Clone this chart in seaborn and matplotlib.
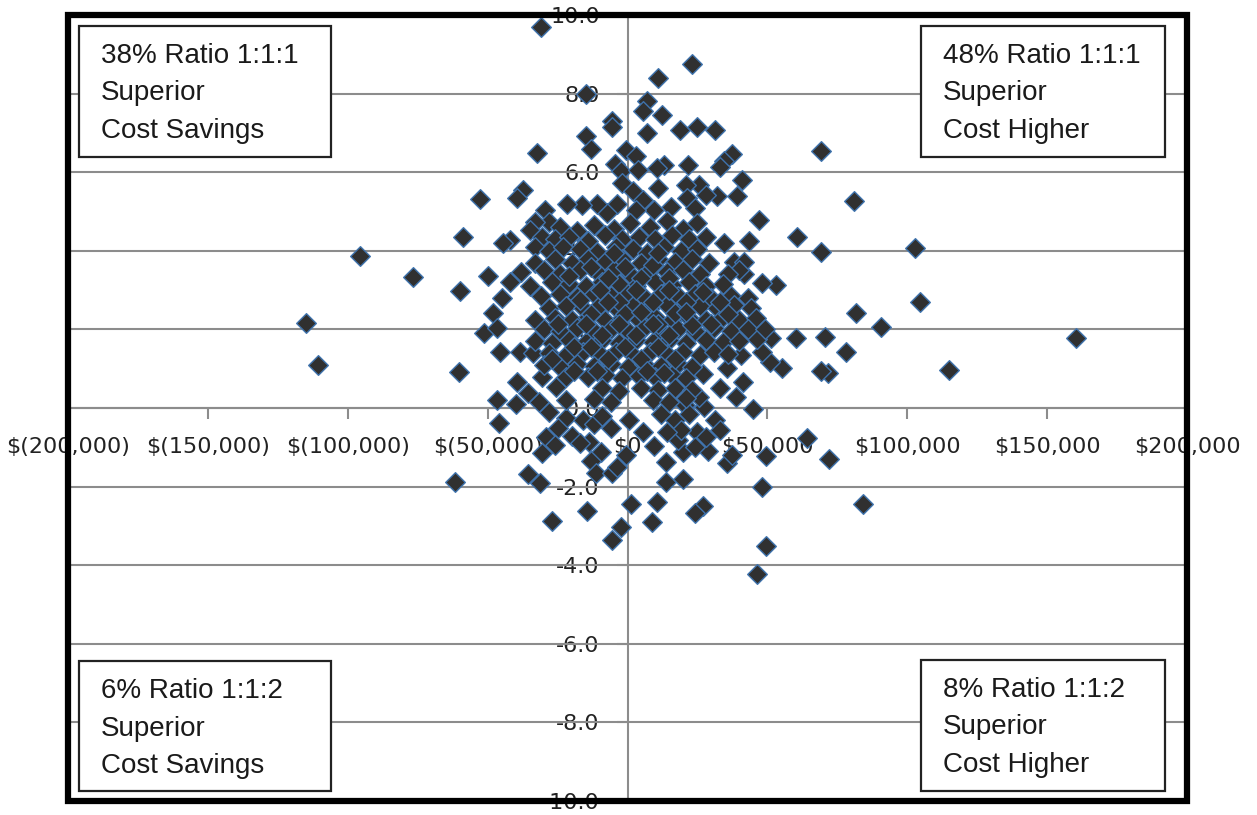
import matplotlib
matplotlib.use('Agg')
import matplotlib.pyplot as plt
from matplotlib.patches import Rectangle
import pandas as pd
import seaborn as sns

W, H = 1257, 815

# values: (cost difference in $1000, outcome difference)
upper_points = [
    (-31, 9.7), (-15, 8.0), (11, 8.4), (23.2, 8.75), (6.8, 7.8), (5.7, 7.55), (12.5, 7.45),
    (-5.4, 7.3), (-5.7, 7.15), (6.8, 7.0), (18.6, 7.07), (25, 7.15), (31.4, 7.07),
    (-15, 6.93), (-12.9, 6.6), (-32.5, 6.5), (-0.7, 6.56), (3.2, 6.4), (-4.6, 6.2), (-2.5, 6.03),
    (3.6, 6.05), (13.2, 6.18), (10.7, 6.1), (21.8, 6.18), (37.5, 6.46), (34.6, 6.28), (33.2, 6.13),
    (41, 5.8), (39, 5.4), (32, 5.4), (25.7, 5.67), (21, 5.67), (11, 5.6), (-1.8, 5.72), (1.8, 5.52),
    (5.4, 5.3), (21.4, 5.34), (28, 5.42), (24, 5.09), (15.7, 5.12), (9.6, 5.04), (2.9, 5.04),
    (-3.9, 5.2), (-7.5, 4.96), (-11, 5.2), (-16.4, 5.16), (-21.8, 5.2), (-29.6, 5.04), (-27.9, 4.73),
    (-33, 4.73), (-35, 4.53), (-30.7, 4.35), (-33, 4.1), (-37.5, 5.55), (-39.6, 5.34), (-52.9, 5.32),
    (-58.9, 4.35), (-42, 4.27), (-44.6, 4.2),
]
left_points = [
    (-76.8, 3.33), (-95.7, 3.87), (-115, 2.16), (-110.7, 1.09), (-60, 2.98), (-50, 3.36), (-45, 2.8),
    (-48.2, 2.42), (-51.4, 1.91), (-46.8, 2.04), (-45.4, 1.42), (-38.6, 1.42), (-33.9, 1.4),
    (-60.4, 0.92), (-39.6, 0.66), (-46.8, 0.2), (-40, 0.1), (-46, -0.38), (-31.8, 0.15), (-35.7, 0.38),
    (-30.4, 0.79), (-25.7, 0.53),
]
lower_points = [
    (-61.8, -1.88), (-35.7, -1.68), (-31.4, -1.91), (-30.4, -1.15), (-27.1, -2.88), (-14.3, -2.62),
    (-13.6, -0.87), (-9.3, -1.12), (-12.9, -1.35), (-11.4, -1.65), (-5.7, -1.65), (-3.6, -1.5),
    (-0.4, -1.2), (5.4, -0.61), (0.7, -0.31), (9.6, -0.97), (13.6, -1.37), (13.6, -1.88), (20, -1.81),
    (20, -1.12), (18.2, -0.81), (28.9, -1.09), (25, -0.61), (31.4, -0.31), (27.5, 0.03), (25.7, 0.28),
    (20.4, 0.08), (35.7, -1.4), (37.5, -1.2), (49.6, -1.22), (64.3, -0.76), (47.9, -2.01), (49.6, -3.51),
    (46.4, -4.22), (1.4, -2.44), (10.4, -2.39), (8.6, -2.9), (27.1, -2.49), (24.3, -2.67), (-2.5, -3.03),
    (-5.4, -3.36), (45, -0.03), (-28, -0.1), (-22, -0.25), (-25, -0.5), (-20, -0.7), (-16, -0.3),
    (-12, -0.4), (-9, -0.2), (-29, -0.75), (-26, -0.95), (-17, -0.9), (-6, -0.5), (12, -0.15), (17, -0.3),
    (22, -0.15), (19, -0.55), (28, -0.75), (14, -0.6), (24, -1.0), (33, -0.55),
]
right_points = [
    (38.9, 0.28), (33.2, 0.51), (41.4, 0.66), (55.4, 1.02), (51, 1.17), (47.9, 1.42), (60.4, 1.78),
    (51.4, 1.78), (46.4, 1.76), (40.7, 1.35), (35.7, 1.02), (27.1, 0.87), (53.2, 3.13), (48.2, 3.18),
    (41.8, 3.41), (160.4, 1.78), (115, 0.97), (81.8, 2.42), (90.7, 2.06), (104.6, 2.7), (78.2, 1.42),
    (70.7, 1.8), (71.5, 0.9), (69.3, 0.95), (84.3, -2.44), (72, -1.3), (102.9, 4.07), (69.3, 3.97),
    (81, 5.27), (69.3, 6.54), (60.7, 4.35), (47, 4.78), (43.6, 4.25), (34.6, 4.2), (38.2, 3.71),
    (41.5, 3.72), (40, 3.5),
]
core_points = [
    (-24, 4.6), (-18, 4.5), (-12, 4.65), (-5, 4.55), (1, 4.7), (8, 4.6), (14, 4.75), (20, 4.55), (25, 4.7),
    (-26, 4.3), (-21, 4.35), (-14, 4.25), (-8, 4.4), (-2, 4.3), (4, 4.35), (10, 4.3), (16, 4.4), (22, 4.3), (28, 4.35),
    (-28, 4.0), (-23, 4.1), (-17, 4.05), (-11, 3.98), (-4, 4.1), (2, 4.05), (7, 3.95), (13, 4.1), (19, 4.0), (25, 4.05),
    (-33, 3.7), (-26, 3.8), (-20, 3.7), (-14, 3.78), (-8, 3.72), (-2, 3.8), (5, 3.7), (11, 3.8), (17, 3.72), (23, 3.78), (29, 3.7),
    (-38, 3.45), (-30, 3.5), (-24, 3.42), (-17, 3.5), (-11, 3.45), (-5, 3.5), (1, 3.42), (8, 3.5), (14, 3.45), (20, 3.5), (26, 3.4), (36, 3.4),
    (-42, 3.2), (-35, 3.1), (-27, 3.2), (-21, 3.15), (-15, 3.1), (-9, 3.2), (-3, 3.15), (3, 3.1), (10, 3.2), (16, 3.12), (22, 3.2), (28, 3.1), (34, 3.15),
    (-31, 2.85), (-24, 2.9), (-18, 2.82), (-12, 2.9), (-6, 2.85), (0, 2.9), (6, 2.82), (12, 2.9), (18, 2.85), (24, 2.9), (30, 2.8), (37, 2.85), (43, 2.8),
    (-28, 2.55), (-22, 2.6), (-16, 2.55), (-10, 2.62), (-4, 2.55), (2, 2.6), (8, 2.55), (14, 2.62), (20, 2.55), (26, 2.6), (32, 2.55), (38, 2.62), (44, 2.55),
    (-33, 2.25), (-26, 2.3), (-20, 2.25), (-14, 2.32), (-8, 2.25), (-2, 2.3), (4, 2.25), (10, 2.32), (16, 2.25), (22, 2.3), (28, 2.25), (34, 2.32), (40, 2.25), (46, 2.3),
    (-30, 2.0), (-24, 1.95), (-18, 2.03), (-12, 1.97), (-6, 2.02), (0, 1.96), (6, 2.03), (12, 1.97), (18, 2.02), (24, 1.96), (31, 2.03), (37, 1.97), (43, 2.02), (49, 2.0),
    (-33, 1.7), (-27, 1.66), (-21, 1.72), (-15, 1.67), (-9, 1.73), (-3, 1.66), (3, 1.72), (9, 1.67), (15, 1.73), (21, 1.66), (28, 1.72), (34, 1.67), (40, 1.7),
    (-28, 1.4), (-22, 1.36), (-16, 1.42), (-10, 1.37), (-4, 1.43), (2, 1.36), (8, 1.42), (14, 1.37), (20, 1.43), (26, 1.36), (31, 1.42), (36, 1.38),
    (-30, 1.1), (-24, 1.05), (-18, 1.12), (-12, 1.06), (-6, 1.13), (0, 1.05), (6, 1.12), (12, 1.06), (18, 1.13), (23, 1.05),
    (-22, 0.8), (-14, 0.78), (-8, 0.84), (-2, 0.76), (4, 0.82), (10, 0.78), (16, 0.84), (21, 0.76),
    (-9, 0.5), (-3, 0.44), (5, 0.52), (11, 0.47), (17, 0.52), (23, 0.46),
    (-22, 0.2), (-12, 0.22), (-6, 0.14), (9, 0.2), (15, 0.16), (21, 0.25),
    # second layer, the middle of the cloud is overplotted
    (-13, 3.6), (-7, 3.3), (-1, 3.6), (5, 3.3), (9, 3.65), (15, 3.3), (-10, 3.0), (-3, 2.7), (3, 3.0), (9, 2.7), (15, 3.0), (21, 2.7),
    (-13, 2.4), (-7, 2.7), (-1, 2.4), (5, 2.45), (11, 2.15), (17, 2.42), (23, 2.1), (-15, 2.15), (-9, 1.85), (-3, 2.15), (3, 1.85), (9, 2.15),
    (15, 1.85), (21, 2.45), (-19, 1.55), (-13, 1.55), (-7, 1.25), (-1, 1.55), (5, 1.25), (11, 1.55), (17, 1.25), (-17, 2.75), (-21, 3.35),
    (27, 2.95), (33, 2.7), (36, 2.4), (30, 2.15), (-25, 2.15), (-27, 1.25), (-19, 0.95), (-11, 0.95), (7, 0.95), (13, 0.9), (-5, 3.95), (11, 3.95),
]

x_ticks = [-200, -150, -100, -50, 0, 50, 100, 150, 200]
x_labels = ['$(200,000)', '$(150,000)', '$(100,000)', '$(50,000)', '$0', '$50,000', '$100,000', '$150,000', '$200,000']
y_ticks = [-10, -8, -6, -4, -2, 0, 2, 4, 6, 8, 10]
y_labels = ['-10.0', '-8.0', '-6.0', '-4.0', '-2.0', '0.0', '2.0', '4.0', '6.0', '8.0', '10.0']

box_text = [
    ['38% Ratio 1:1:1', 'Superior', 'Cost Savings'],
    ['48% Ratio 1:1:1', 'Superior', 'Cost Higher'],
    ['6% Ratio 1:1:2', 'Superior', 'Cost Savings'],
    ['8% Ratio 1:1:2', 'Superior', 'Cost Higher'],
]
box_px = [(79, 26, 331, 157), (921, 26, 1165, 157), (79, 661, 331, 791), (921, 660, 1165, 791)]

points = upper_points + left_points + lower_points + right_points + core_points
df = pd.DataFrame(points, columns=['cost', 'outcome'])

sns.set_style('white')
fig = plt.figure(figsize=(W / 100, H / 100), dpi=100, facecolor='white')
ax = fig.add_axes([68 / W, 1 - 801 / H, (1187 - 68) / W, (801 - 15) / H])

# gridlines go under the diamonds, tick labels stay over them
for v in y_ticks:
    ax.axhline(v, color='#8c8c8c', lw=1.5, zorder=1)

sns.scatterplot(data=df, x='cost', y='outcome', marker='D', s=100, color='#303030',
                edgecolor='#3f73ad', linewidth=1.0, zorder=2, ax=ax)

ax.set_xlim(-200, 200)
ax.set_ylim(-10, 10)
ax.set_xlabel('')
ax.set_ylabel('')
ax.set_xticks(x_ticks, x_labels)
ax.set_yticks(y_ticks, y_labels)
ax.tick_params(axis='x', direction='out', length=8, width=1.5, color='#8c8c8c', labelsize=16, pad=13,
               labelcolor='#222222', bottom=True)
ax.tick_params(axis='y', direction='out', length=8, width=1.5, color='#8c8c8c', labelsize=16, pad=12,
               labelcolor='#222222', left=True)

for side in ['top', 'right']:
    ax.spines[side].set_visible(False)
for side in ['left', 'bottom']:
    ax.spines[side].set_position(('data', 0))
    ax.spines[side].set_color('#8c8c8c')
    ax.spines[side].set_linewidth(1.5)
    ax.spines[side].set_zorder(1)

# thick outer frame, it runs over the tick labels
ax.add_patch(Rectangle((0, 0), 1, 1, transform=ax.transAxes, fill=False, ec='black', lw=4.5,
                       clip_on=False, zorder=5))

for lines, (x0, y0, x1, y1) in zip(box_text, box_px):
    fig.add_artist(Rectangle((x0 / W, 1 - y1 / H), (x1 - x0) / W, (y1 - y0) / H, transform=fig.transFigure,
                             fc='white', ec='#222222', lw=1.6, zorder=6))
    for i, line in enumerate(lines):
        fig.text((x0 + 22) / W, 1 - (y0 + 30 + i * 37.5) / H, line, family='Liberation Sans', fontsize=20,
                 color='#1a1a1a', va='center', ha='left', zorder=7)

fig.savefig('out.png', dpi=100)
